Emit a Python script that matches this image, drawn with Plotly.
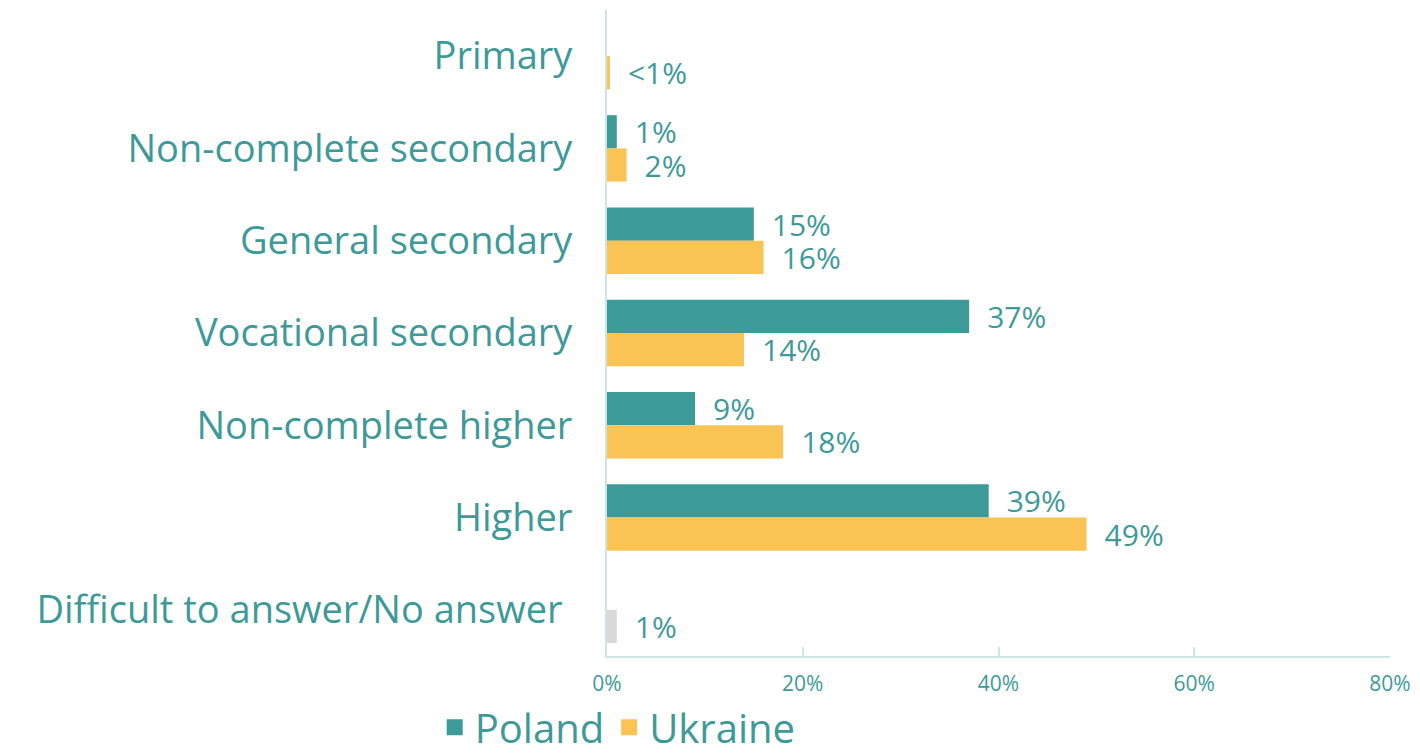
import plotly.graph_objects as go

# Education level of respondents, by country (share of respondents, %)
categories = [
    "Primary",
    "Non-complete secondary",
    "General secondary",
    "Vocational secondary",
    "Non-complete higher",
    "Higher",
    "Difficult to answer/No answer\u00a0",
]
poland = [None, 1, 15, 37, 9, 39, None]
poland_labels = ["", "1%", "15%", "37%", "9%", "39%", ""]
ukraine = [0.3, 2, 16, 14, 18, 49, 1]
ukraine_labels = ["<1%", "2%", "16%", "14%", "18%", "49%", "1%"]
x_ticks = [0, 20, 40, 60, 80]
x_tick_labels = ["0%", "20%", "40%", "60%", "80%"]
series_names = ["Poland", "Ukraine"]

TEAL = "#3C9A98"
YELLOW = "#F9C454"
GREY = "#D9D9D9"
TEXT = "#3E9A98"
AXIS = "#CFE4E4"
FONT = "Open Sans"

ukraine_colors = [YELLOW] * (len(categories) - 1) + [GREY]


def pad(labels):
    return ["\u2002" + t if t else "" for t in labels]


fig = go.Figure()
fig.add_trace(go.Bar(
    name=series_names[0],
    y=categories,
    x=poland,
    orientation="h",
    marker=dict(color=TEAL, line=dict(width=0)),
    text=pad(poland_labels),
    textposition="outside",
    constraintext="none",
    textfont=dict(family=FONT, size=30, color=TEXT),
    cliponaxis=False,
    showlegend=False,
))
fig.add_trace(go.Bar(
    name=series_names[1],
    y=categories,
    x=ukraine,
    orientation="h",
    marker=dict(color=ukraine_colors, line=dict(width=0)),
    text=pad(ukraine_labels),
    textposition="outside",
    constraintext="none",
    textfont=dict(family=FONT, size=30, color=TEXT),
    cliponaxis=False,
    showlegend=False,
))

# Legend entries with larger square swatches
for name, color in zip(series_names, [TEAL, YELLOW]):
    fig.add_trace(go.Scatter(
        name=name,
        x=[None],
        y=[None],
        mode="markers",
        marker=dict(symbol="square", size=20, color=color),
        showlegend=True,
    ))

fig.update_layout(
    width=1420,
    height=756,
    margin=dict(l=607, r=30, t=10, b=100, autoexpand=False),
    paper_bgcolor="white",
    plot_bgcolor="white",
    barmode="group",
    bargap=0.28,
    bargroupgap=0,
    font=dict(family=FONT, color=TEXT),
    legend=dict(
        orientation="h",
        xref="container",
        yref="container",
        x=0.435,
        xanchor="center",
        y=0.038,
        yanchor="middle",
        bgcolor="rgba(0,0,0,0)",
        font=dict(family=FONT, size=40, color=TEXT),
        itemsizing="trace",
        traceorder="normal",
        itemwidth=30,
    ),
    showlegend=True,
)

fig.update_xaxes(
    range=[0, 80],
    tickvals=x_ticks,
    ticktext=x_tick_labels,
    tickfont=dict(family=FONT, size=21, color=TEXT),
    showgrid=False,
    zeroline=False,
    showline=True,
    linecolor=AXIS,
    linewidth=2,
    ticks="inside",
    ticklen=9,
    tickwidth=1.5,
    tickcolor=AXIS,
    ticklabelstandoff=8,
    fixedrange=True,
)
fig.update_yaxes(
    categoryorder="array",
    categoryarray=categories,
    autorange="reversed",
    tickfont=dict(family=FONT, size=38, color=TEXT),
    showgrid=False,
    zeroline=False,
    showline=True,
    linecolor=AXIS,
    linewidth=2,
    ticks="",
    ticklabelstandoff=25,
    fixedrange=True,
)

fig.write_html("out.html")
